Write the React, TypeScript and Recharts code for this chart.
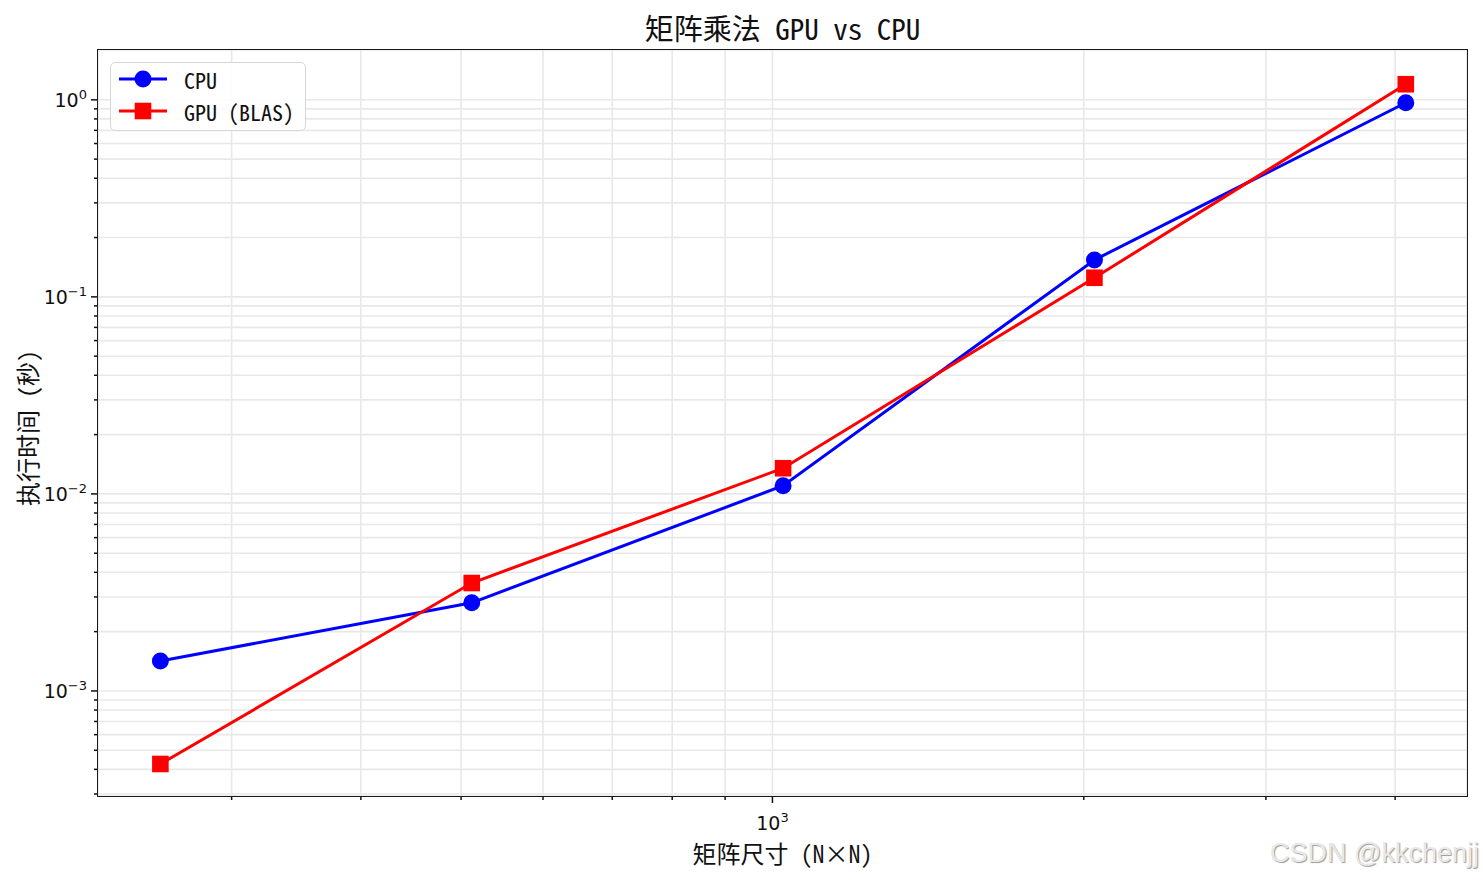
import React from "react";
import { LineChart, Line, XAxis, YAxis, CartesianGrid } from "recharts";

// matrix sizes (N x N)
const SIZES = [256, 512, 1024, 2048, 4096];
// execution time in seconds
const CPU_TIME = [0.00142, 0.0028, 0.011, 0.154, 0.966];
const GPU_TIME = [0.000426, 0.00353, 0.0135, 0.125, 1.2];

const X_TICKS = [300, 400, 500, 600, 700, 800, 900, 1000, 2000, 3000, 4000];
const X_MAJOR: Record<number, string> = { 1000: "3" };
const Y_TICKS = [
  0.0003, 0.0004, 0.0005, 0.0006, 0.0007, 0.0008, 0.0009,
  0.001, 0.002, 0.003, 0.004, 0.005, 0.006, 0.007, 0.008, 0.009,
  0.01, 0.02, 0.03, 0.04, 0.05, 0.06, 0.07, 0.08, 0.09,
  0.1, 0.2, 0.3, 0.4, 0.5, 0.6, 0.7, 0.8, 0.9,
  1,
];
const Y_MAJOR: Record<number, string> = { 0.001: "−3", 0.01: "−2", 0.1: "−1", 1: "0" };

const data = SIZES.map((n, i) => ({ n, cpu: CPU_TIME[i], gpu: GPU_TIME[i] }));

const W = 1483;
const H = 880;
const PLOT = { left: 98, top: 50, right: 1467, bottom: 796 };
const CJK = "'Noto Sans Mono CJK SC', 'Noto Sans CJK SC', sans-serif";
const TICK_FONT = "'DejaVu Sans', sans-serif";

function XTick({ x, y, payload }: any) {
  const exp = X_MAJOR[payload.value];
  return (
    <g>
      <line x1={x} x2={x} y1={y} y2={y + (exp ? 7 : 4)} stroke="#111" strokeWidth={1.5} />
      {exp && (
        <text x={x} y={y + 34} textAnchor="middle" fontFamily={TICK_FONT} fontSize={19} fill="#111">
          <tspan>10</tspan>
          <tspan dy={-8} fontSize={13}>{exp}</tspan>
        </text>
      )}
    </g>
  );
}

function YTick({ x, y, payload }: any) {
  const exp = Y_MAJOR[payload.value];
  return (
    <g>
      <line x1={x} x2={x - (exp ? 7 : 4)} y1={y} y2={y} stroke="#111" strokeWidth={1.5} />
      {exp && (
        <text x={x - 11} y={y + 7} textAnchor="end" fontFamily={TICK_FONT} fontSize={19} fill="#111">
          <tspan>10</tspan>
          <tspan dy={-8} fontSize={13}>{exp}</tspan>
        </text>
      )}
    </g>
  );
}

function CircleDot({ cx, cy }: any) {
  return <circle cx={cx} cy={cy} r={8.5} fill="#0000ff" />;
}

function SquareDot({ cx, cy }: any) {
  return <rect x={cx - 8.3} y={cy - 8.3} width={16.6} height={16.6} fill="#ff0000" />;
}

function LegendBox() {
  const items = [
    { label: "CPU", color: "#0000ff", shape: "circle" },
    { label: "GPU (BLAS)", color: "#ff0000", shape: "square" },
  ];
  return (
    <div
      style={{
        position: "absolute", left: 110, top: 62, width: 194, height: 67,
        border: "1.5px solid #d6d6d6", borderRadius: 5, background: "rgba(255,255,255,0.85)",
      }}
    >
      {items.map((it, i) => (
        <div key={it.label} style={{ position: "absolute", left: 7, top: 5 + i * 32, height: 22, display: "flex", alignItems: "center" }}>
          <svg width={50} height={22}>
            <line x1={1} x2={49} y1={11} y2={11} stroke={it.color} strokeWidth={3} />
            {it.shape === "circle"
              ? <circle cx={25} cy={11} r={8.5} fill={it.color} />
              : <rect x={16.7} y={2.7} width={16.6} height={16.6} fill={it.color} />}
          </svg>
          <span style={{ marginLeft: 16, fontFamily: CJK, fontSize: 22, color: "#111", whiteSpace: "pre" }}>{it.label}</span>
        </div>
      ))}
    </div>
  );
}

export default function App() {
  return (
    <div style={{ position: "absolute", left: 0, top: 0, width: W, height: H, background: "#fff" }}>
      <LineChart
        width={W}
        height={H}
        data={data}
        margin={{ top: PLOT.top, right: W - PLOT.right, bottom: 0, left: 0 }}
      >
        <CartesianGrid stroke="#e8e8e8" strokeWidth={1.6} />
        <XAxis
          dataKey="n"
          type="number"
          scale="log"
          domain={[222.8, 4694]}
          allowDataOverflow
          ticks={X_TICKS}
          interval={0}
          height={H - PLOT.bottom}
          tickSize={0}
          tickMargin={0}
          axisLine={false}
          tick={<XTick />}
        />
        <YAxis
          type="number"
          scale="log"
          domain={[0.000293, 1.79]}
          allowDataOverflow
          ticks={Y_TICKS}
          interval={0}
          width={PLOT.left}
          tickSize={0}
          tickMargin={0}
          axisLine={false}
          tick={<YTick />}
        />
        <Line dataKey="cpu" stroke="#0000ff" strokeWidth={3} dot={<CircleDot />} activeDot={false} isAnimationActive={false} />
        <Line dataKey="gpu" stroke="#ff0000" strokeWidth={3} dot={<SquareDot />} activeDot={false} isAnimationActive={false} />
      </LineChart>

      {/* axes frame */}
      <div
        style={{
          position: "absolute", left: PLOT.left - 1, top: PLOT.top - 1,
          width: PLOT.right - PLOT.left, height: PLOT.bottom - PLOT.top,
          border: "1.6px solid #1a1a1a", pointerEvents: "none",
        }}
      />

      <div style={{ position: "absolute", left: PLOT.left, width: PLOT.right - PLOT.left, top: 9, textAlign: "center", fontFamily: CJK, fontSize: 29, color: "#111", lineHeight: "36px", whiteSpace: "pre" }}>
        矩阵乘法 GPU vs CPU
      </div>
      <div style={{ position: "absolute", left: PLOT.left, width: PLOT.right - PLOT.left, top: 837, textAlign: "center", fontFamily: CJK, fontSize: 24, color: "#111", lineHeight: "32px", whiteSpace: "pre" }}>
        矩阵尺寸 (N×N)
      </div>
      <div
        style={{
          position: "absolute", left: 27, top: 428, transform: "translate(-50%, -50%) rotate(-90deg)",
          whiteSpace: "pre", fontFamily: CJK, fontSize: 24, color: "#111", lineHeight: "30px",
        }}
      >
        执行时间 (秒)
      </div>
      <LegendBox />
      <div
        style={{
          position: "absolute", right: 4, top: 835, fontFamily: "'Liberation Sans', Arial, sans-serif",
          fontSize: 27, color: "#e8e8e8", textShadow: "1px 1px 1px #9a9a9a", lineHeight: "36px",
        }}
      >
        CSDN @kkchenjj
      </div>
    </div>
  );
}
